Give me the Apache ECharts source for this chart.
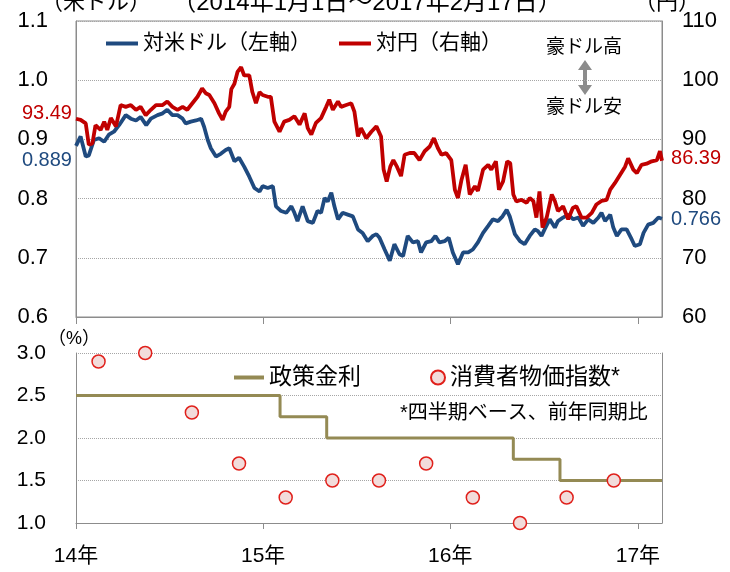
<!DOCTYPE html>
<html>
<head>
<meta charset="utf-8">
<script src="https://cdn.jsdelivr.net/npm/echarts@6/dist/echarts.min.js"></script>
<style>
  html, body { margin: 0; padding: 0; background: #fff; }
  #chart { width: 730px; height: 572px; }
</style>
</head>
<body>
<div id="chart"></div>
<script>
// AUD/USD (left axis)
const usdDates = ['2014-01-01','2014-01-10','2014-01-20','2014-01-26','2014-02-05','2014-02-15','2014-02-25','2014-03-06','2014-03-16','2014-03-26','2014-04-08','2014-04-18','2014-04-28','2014-05-07','2014-05-18','2014-05-27','2014-06-09','2014-06-19','2014-06-28','2014-07-08','2014-07-18','2014-07-28','2014-08-03','2014-08-13','2014-08-23','2014-09-02','2014-09-08','2014-09-15','2014-09-21','2014-10-01','2014-10-11','2014-10-20','2014-10-27','2014-11-06','2014-11-15','2014-11-25','2014-12-05','2014-12-15','2014-12-25','2014-12-31','2015-01-10','2015-01-20','2015-01-26','2015-02-05','2015-02-15','2015-02-25','2015-03-03','2015-03-09','2015-03-19','2015-03-29','2015-04-08','2015-04-17','2015-04-24','2015-05-01','2015-05-07','2015-05-14','2015-05-20','2015-05-27','2015-06-05','2015-06-15','2015-06-25','2015-07-05','2015-07-14','2015-07-24','2015-08-03','2015-08-10','2015-08-16','2015-08-26','2015-09-05','2015-09-14','2015-09-24','2015-10-01','2015-10-10','2015-10-20','2015-10-30','2015-11-05','2015-11-15','2015-11-25','2015-12-03','2015-12-11','2015-12-21','2015-12-29','2016-01-06','2016-01-16','2016-01-26','2016-02-05','2016-02-14','2016-02-24','2016-03-05','2016-03-15','2016-03-24','2016-04-03','2016-04-12','2016-04-20','2016-04-26','2016-05-06','2016-05-16','2016-05-25','2016-06-04','2016-06-14','2016-06-20','2016-06-27','2016-07-03','2016-07-13','2016-07-23','2016-07-29','2016-08-08','2016-08-18','2016-08-28','2016-09-07','2016-09-16','2016-09-26','2016-10-06','2016-10-16','2016-10-22','2016-10-29','2016-11-08','2016-11-14','2016-11-21','2016-11-30','2016-12-10','2016-12-20','2016-12-26','2017-01-05','2017-01-12','2017-01-21','2017-01-31','2017-02-10','2017-02-17'];
const usdValues = [0.889,0.905,0.871,0.873,0.899,0.902,0.896,0.908,0.913,0.924,0.941,0.935,0.932,0.938,0.924,0.935,0.941,0.944,0.950,0.941,0.941,0.935,0.927,0.930,0.932,0.935,0.921,0.899,0.885,0.871,0.876,0.882,0.885,0.863,0.869,0.854,0.837,0.818,0.812,0.821,0.818,0.821,0.787,0.779,0.776,0.787,0.776,0.762,0.787,0.762,0.759,0.779,0.776,0.801,0.795,0.810,0.787,0.765,0.776,0.773,0.770,0.748,0.742,0.728,0.737,0.740,0.734,0.714,0.695,0.723,0.706,0.703,0.737,0.726,0.728,0.709,0.726,0.728,0.737,0.726,0.728,0.734,0.709,0.689,0.709,0.709,0.714,0.726,0.742,0.754,0.765,0.762,0.770,0.781,0.770,0.740,0.728,0.723,0.737,0.748,0.745,0.737,0.748,0.765,0.751,0.762,0.768,0.773,0.765,0.768,0.754,0.765,0.759,0.768,0.776,0.762,0.773,0.751,0.737,0.748,0.748,0.731,0.720,0.723,0.742,0.756,0.759,0.768,0.766];

// AUD/JPY (right axis)
const jpyDates = ['2014-01-01','2014-01-10','2014-01-20','2014-01-26','2014-02-02','2014-02-08','2014-02-18','2014-02-25','2014-03-03','2014-03-10','2014-03-20','2014-03-29','2014-04-08','2014-04-18','2014-04-28','2014-05-07','2014-05-17','2014-05-27','2014-06-06','2014-06-19','2014-06-28','2014-07-08','2014-07-18','2014-07-28','2014-08-06','2014-08-16','2014-08-26','2014-09-04','2014-09-11','2014-09-18','2014-09-28','2014-10-07','2014-10-14','2014-10-20','2014-10-27','2014-10-31','2014-11-06','2014-11-12','2014-11-19','2014-11-25','2014-12-05','2014-12-11','2014-12-18','2014-12-25','2014-12-31','2015-01-10','2015-01-16','2015-01-23','2015-02-02','2015-02-11','2015-02-21','2015-03-03','2015-03-13','2015-03-23','2015-03-29','2015-04-05','2015-04-14','2015-04-24','2015-05-04','2015-05-10','2015-05-17','2015-05-27','2015-06-02','2015-06-12','2015-06-22','2015-06-28','2015-07-05','2015-07-11','2015-07-21','2015-07-31','2015-08-10','2015-08-13','2015-08-19','2015-08-24','2015-08-30','2015-09-06','2015-09-12','2015-09-19','2015-09-27','2015-10-04','2015-10-14','2015-10-23','2015-11-02','2015-11-12','2015-11-22','2015-11-30','2015-12-08','2015-12-15','2015-12-24','2016-01-03','2016-01-10','2016-01-16','2016-01-23','2016-01-31','2016-02-08','2016-02-18','2016-02-24','2016-03-05','2016-03-15','2016-03-21','2016-03-30','2016-04-05','2016-04-13','2016-04-21','2016-04-27','2016-05-03','2016-05-09','2016-05-19','2016-05-29','2016-06-04','2016-06-11','2016-06-17','2016-06-23','2016-06-29','2016-07-07','2016-07-17','2016-07-23','2016-07-29','2016-08-08','2016-08-18','2016-08-27','2016-09-03','2016-09-13','2016-09-23','2016-10-03','2016-10-12','2016-10-22','2016-11-01','2016-11-08','2016-11-17','2016-11-27','2016-12-07','2016-12-13','2016-12-23','2016-12-30','2017-01-08','2017-01-18','2017-01-28','2017-02-07','2017-02-13','2017-02-17'];
const jpyValues = [93.49,93.3,92.7,89.1,89.3,92.4,91.6,93.0,91.6,93.6,92.2,95.8,95.5,95.8,95.0,95.5,94.1,95.0,95.8,95.8,96.4,95.5,95.0,95.5,95.0,96.1,97.2,98.6,97.8,97.5,96.1,94.4,93.3,94.7,95.5,98.5,99.4,101.4,102.2,100.8,100.8,98.0,96.1,98.0,97.5,97.2,97.2,93.0,91.3,93.0,93.3,93.9,92.5,94.4,91.9,90.8,92.8,93.6,95.5,96.7,95.0,96.4,95.5,95.8,96.1,94.7,90.5,91.9,90.2,91.3,92.2,92.4,90.5,84.9,82.9,85.4,86.5,85.4,83.8,87.4,87.7,87.7,86.5,88.0,88.8,90.2,88.5,87.4,87.7,86.5,81.5,80.1,83.2,85.7,80.7,82.1,81.3,84.9,85.7,84.9,86.3,81.5,82.9,86.3,86.0,80.7,79.5,79.8,79.3,80.1,79.6,76.8,81.2,75.1,76.8,80.7,79.6,77.9,78.7,76.5,78.4,78.7,76.8,76.8,77.6,79.0,79.6,79.8,81.5,82.6,84.0,85.4,86.8,84.9,84.3,85.7,85.9,86.3,86.5,88.0,86.39];

// RBA cash rate (step) and CPI y/y (quarterly)
const rateDates = ['2014-01-01','2015-02-03','2015-05-05','2016-05-03','2016-08-02','2017-02-17'];
const rateValues = [2.5, 2.25, 2.0, 1.75, 1.5, 1.5];
const cpiDates = ['2014-02-14','2014-05-16','2014-08-15','2014-11-15','2015-02-14','2015-05-16','2015-08-15','2015-11-15','2016-02-14','2016-05-16','2016-08-15','2016-11-15'];
const cpiValues = [2.9, 3.0, 2.3, 1.7, 1.3, 1.5, 1.5, 1.7, 1.3, 1.0, 1.3, 1.5];

const yearTicks = ['2014-01-01','2015-01-01','2016-01-01','2017-01-01'];
const xStart = '2014-01-01';
const xEnd = '2017-02-17';

const FONT = "'Liberation Sans', 'Noto Sans CJK JP', sans-serif";
const AXIS_GRAY = '#8c8c8c';
const GRID_GRAY = '#a6a6a6';
const BLUE = '#1F4A7F';
const RED = '#C00000';
const OLIVE = '#948A54';

// local-time timestamp from 'YYYY-MM-DD'
function ts(s) {
  const p = s.split('-').map(Number);
  return new Date(p[0], p[1] - 1, p[2]).getTime();
}
function pairs(dates, values) {
  return dates.map((d, i) => [ts(d), values[i]]);
}

const usd = pairs(usdDates, usdValues);
const jpy = pairs(jpyDates, jpyValues);
const rate = pairs(rateDates, rateValues);
const cpi = pairs(cpiDates, cpiValues);
const tickVals = yearTicks.map(ts);
const yearLabel = (v) => String(new Date(v).getFullYear()).slice(2) + '年';

function endMark(point, text, color, side, dist, dy) {
  return {
    coord: point,
    value: text,
    label: {
      show: true, position: side, distance: dist, offset: [0, dy],
      formatter: text, color: color, fontSize: 20, fontFamily: FONT
    }
  };
}

const markBase = {
  symbol: 'circle', symbolSize: 0.1, silent: true,
  itemStyle: { color: 'transparent' }
};

function txt(x, y, text, size, align) {
  return {
    type: 'text', x: x, y: y, silent: true,
    style: { text: text, fontSize: size, fontFamily: FONT, fill: '#000', align: align || 'center', verticalAlign: 'middle' }
  };
}

const chart = echarts.init(document.getElementById('chart'), null, { renderer: 'canvas' });

const option = {
  animation: false,
  backgroundColor: '#fff',
  textStyle: { fontFamily: FONT, color: '#000' },
  grid: [
    { left: 76, right: 68, top: 21, height: 296, show: true, borderColor: AXIS_GRAY, borderWidth: 1,
      backgroundColor: 'transparent', containLabel: false, outerBoundsMode: 'none' },
    { left: 76, right: 68, top: 353, height: 170, containLabel: false, outerBoundsMode: 'none' }
  ],
  xAxis: [
    {
      type: 'value', gridIndex: 0, min: ts(xStart), max: ts(xEnd),
      axisLine: { show: true, lineStyle: { color: AXIS_GRAY } },
      axisTick: { show: true, inside: false, length: 7, customValues: tickVals, lineStyle: { color: AXIS_GRAY } },
      axisLabel: { show: false },
      splitLine: { show: false }
    },
    {
      type: 'value', gridIndex: 1, min: ts(xStart), max: ts(xEnd),
      axisLine: { show: true, lineStyle: { color: AXIS_GRAY } },
      axisTick: { show: true, inside: false, length: 6, customValues: tickVals, lineStyle: { color: AXIS_GRAY } },
      axisLabel: {
        show: true, customValues: tickVals, fontSize: 21, color: '#000', margin: 23,
        formatter: yearLabel
      },
      splitLine: { show: false }
    }
  ],
  yAxis: [
    {
      type: 'value', gridIndex: 0, position: 'left', min: 0.6, max: 1.1, interval: 0.1,
      axisLine: { show: true, lineStyle: { color: AXIS_GRAY } },
      axisTick: { show: false },
      axisLabel: { fontSize: 22, color: '#000', margin: 28, formatter: (v) => v.toFixed(1) },
      splitLine: { show: true, lineStyle: { type: 'dotted', color: GRID_GRAY } }
    },
    {
      type: 'value', gridIndex: 0, position: 'right', min: 60, max: 110, interval: 10,
      axisLine: { show: true, lineStyle: { color: AXIS_GRAY } },
      axisTick: { show: false },
      axisLabel: { fontSize: 22, color: '#000', margin: 20 },
      splitLine: { show: false }
    },
    {
      type: 'value', gridIndex: 1, position: 'left', min: 1.0, max: 3.0, interval: 0.5,
      axisLine: { show: true, lineStyle: { color: AXIS_GRAY } },
      axisTick: { show: false },
      axisLabel: { fontSize: 21, color: '#000', margin: 30, formatter: (v) => v.toFixed(1) },
      splitLine: { show: true, lineStyle: { type: 'dotted', color: GRID_GRAY } }
    },
    {
      type: 'value', gridIndex: 1, position: 'right', min: 1.0, max: 3.0, interval: 0.5,
      axisLine: { show: true, lineStyle: { color: AXIS_GRAY } },
      axisTick: { show: false }, axisLabel: { show: false }, splitLine: { show: false }
    }
  ],
  legend: [
    {
      data: ['対米ドル（左軸）', '対円（右軸）'], left: 106, top: 33, padding: 0,
      icon: 'rect', itemWidth: 32, itemHeight: 4, itemGap: 28,
      textStyle: { fontSize: 21, color: '#000', fontFamily: FONT }
    },
    {
      data: ['政策金利'], left: 234, top: 366, padding: 0,
      icon: 'rect', itemWidth: 30, itemHeight: 4,
      textStyle: { fontSize: 23, color: '#000', fontFamily: FONT }
    },
    {
      data: ['消費者物価指数*'], left: 430, top: 366, padding: 0,
      itemWidth: 14, itemHeight: 14,
      textStyle: { fontSize: 23, color: '#000', fontFamily: FONT }
    }
  ],
  graphic: [
    txt(96, 3, '（米ドル）', 22),
    txt(367, 3, '（2014年1月1日～2017年2月17日）', 24),
    txt(667, 3, '（円）', 22),
    txt(74, 339, '（%）', 18),
    txt(584, 48, '豪ドル高', 19),
    txt(584, 108, '豪ドル安', 19),
    {
      type: 'polygon', silent: true,
      shape: { points: [[585, 60], [592, 70], [587, 70], [587, 85], [592, 85], [585, 95], [578, 85], [583, 85], [583, 70], [578, 70]] },
      style: { fill: '#8c8c8c' }
    },
    txt(400, 413, '*四半期ベース、前年同期比', 20, 'left')
  ],
  series: [
    {
      name: '対米ドル（左軸）', type: 'line', xAxisIndex: 0, yAxisIndex: 0,
      data: usd, symbol: 'none', showSymbol: false,
      lineStyle: { width: 3.8, color: BLUE }, itemStyle: { color: BLUE },
      markPoint: Object.assign({}, markBase, {
        data: [
          endMark(usd[0], usdValues[0].toFixed(3), BLUE, 'left', 4, 15),
          endMark(usd[usd.length - 1], usdValues[usdValues.length - 1].toFixed(3), BLUE, 'right', 9, 1)
        ]
      })
    },
    {
      name: '対円（右軸）', type: 'line', xAxisIndex: 0, yAxisIndex: 1,
      data: jpy, symbol: 'none', showSymbol: false,
      lineStyle: { width: 3.8, color: RED }, itemStyle: { color: RED },
      markPoint: Object.assign({}, markBase, {
        data: [
          endMark(jpy[0], jpyValues[0].toFixed(2), RED, 'left', 4, -5),
          endMark(jpy[jpy.length - 1], jpyValues[jpyValues.length - 1].toFixed(2), RED, 'right', 9, -2)
        ]
      })
    },
    {
      name: '政策金利', type: 'line', step: 'end', xAxisIndex: 1, yAxisIndex: 2,
      data: rate, symbol: 'none', showSymbol: false,
      lineStyle: { width: 3, color: OLIVE }, itemStyle: { color: OLIVE }
    },
    {
      name: '消費者物価指数*', type: 'scatter', xAxisIndex: 1, yAxisIndex: 2,
      data: cpi, symbol: 'circle', symbolSize: 13, z: 5,
      itemStyle: { color: '#F2DCDB', borderColor: '#E0201B', borderWidth: 1.5, opacity: 1 }
    }
  ]
};

chart.setOption(option);
</script>
</body>
</html>
